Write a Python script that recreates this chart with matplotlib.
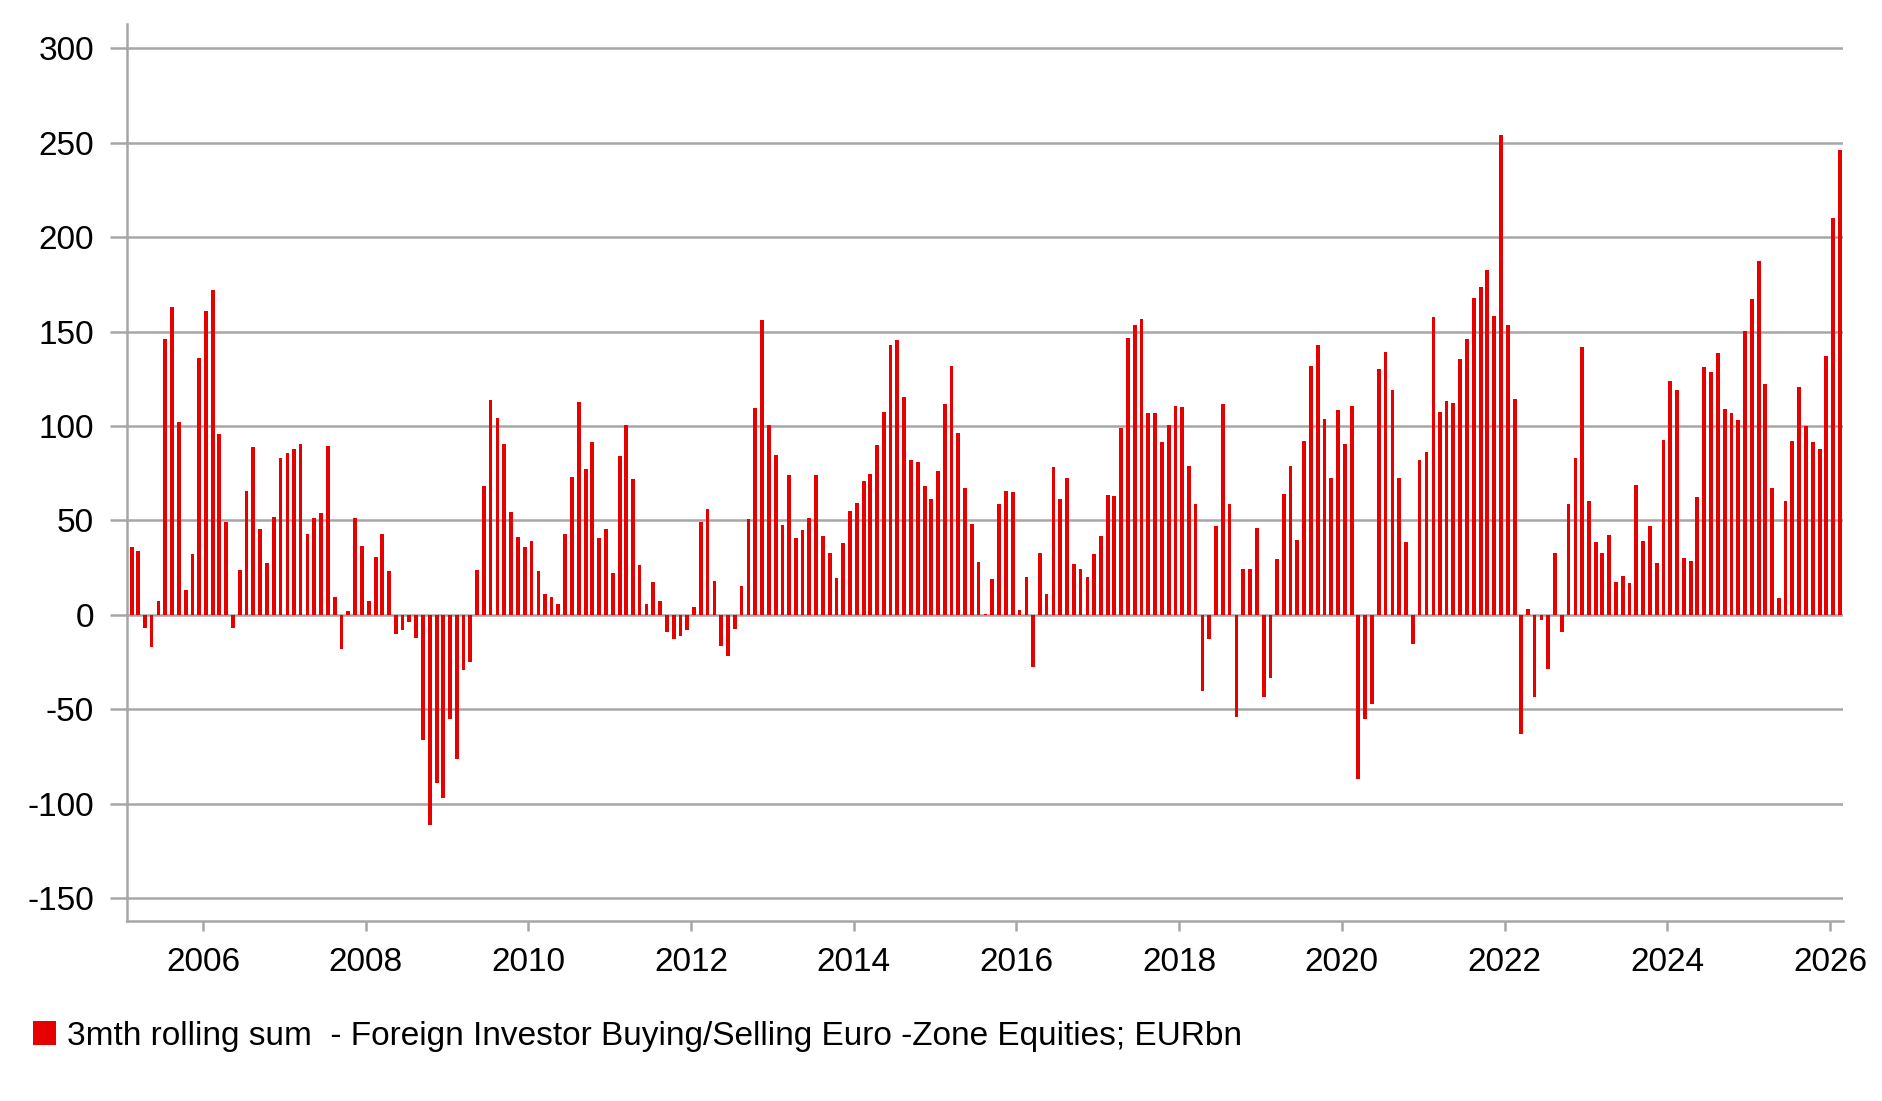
import matplotlib
matplotlib.use("Agg")
import matplotlib.pyplot as plt
import matplotlib.dates as mdates
from matplotlib.patches import Patch
import pandas as pd

# monthly 3m rolling sums, EURbn
start_month = "2005-02-01"
flows = [36, 34, -7, -17, 7.5, 146, 163, 102, 13, 32, 136, 161, 172, 96, 49, -7, 24, 65.5,
         89, 45.5, 27.5, 52, 83, 85.5, 88, 90.5, 43, 51.5, 54, 89.5, 9.5, -18, 2, 51.5, 36.5, 7.5, 30.5, 43, 23,
         -10, -8, -3.5, -12, -66, -111, -89, -97, -55, -76, -29, -25, 24, 68, 114, 104, 90.5, 54.5, 41, 36,
         39, 23, 11, 9.5, 6, 43, 73, 112.5, 77.5, 91.5, 40.5, 45.5, 22, 84, 100.5, 72, 26.5, 6, 17.5, 7.5, -9,
         -12.5, -11, -8, 4, 49, 56, 18, -16.5, -21.5, -7.5, 15.5, 51, 109.5, 156, 100.5, 84.5, 47.5, 74, 40.5, 45, 51.5,
         74, 42, 33, 19.5, 38, 55, 59.5, 71, 74.5, 90, 107.5, 143, 145.5, 115.5, 82, 81, 68, 61.5, 76, 111.5,
         132, 96.5, 67, 48, 28, 0.6, 19, 58.5, 65.5, 65, 2.6, 20, -27.5, 33, 11, 78.5, 61.5, 72.5, 27, 24.5, 20,
         32, 42, 63.5, 63, 99, 146.5, 153.5, 156.5, 107, 107, 91.5, 100.5, 110.5, 110, 79, 58.5, -40.5, -12.5, 47, 111.5, 58.5,
         -54, 24.5, 24.5, 46, -43.5, -33.5, 29.5, 64, 79, 39.5, 92, 132, 143, 103.5, 72.5, 108.5, 90.5, 110.5, -87, -55,
         -47, 130, 139, 119, 72.5, 38.5, -15.5, 82, 86, 157.5, 107.5, 113, 112, 135.5, 146, 168, 173.5, 182.5, 158, 254,
         153.5, 114.5, -63, 3, -43.5,
         -2.5, -28.5, 33, -9, 58.5, 83, 142, 60.5, 38.5, 33, 42.5, 17.5, 20.5, 17, 69, 39, 47, 27.5, 92.5, 124, 119,
         30, 28.5, 62.5, 131, 128.5, 138.5, 109, 107, 103, 150.5, 167.5, 187.5, 122, 67, 9, 60.5, 92, 120.5, 100,
         91.5, 88, 137, 210, 246]
y_ticks = [300, 250, 200, 150, 100, 50, 0, -50, -100, -150]
legend_label = "3mth rolling sum  - Foreign Investor Buying/Selling Euro -Zone Equities; EURbn"

dates = pd.date_range(start_month, periods=len(flows), freq="MS") + pd.Timedelta(days=14)

plt.rcParams['font.family'] = ['Liberation Sans', 'DejaVu Sans']
plt.rcParams['axes.unicode_minus'] = False

grey = "#a6a6a6"
red = "#e60000"

fig = plt.figure(figsize=(18.83, 11.01), dpi=100)
ax = fig.add_axes([0.0676, 0.1635, 0.9114, 0.8145])

ax.bar(dates, flows, width=17, color=red, zorder=3, label=legend_label)

ax.set_ylim(-162, 312.7)
ax.set_yticks(y_ticks)
ax.set_xlim(dates[0] - pd.Timedelta(days=20), dates[-1] + pd.Timedelta(days=15))
ax.xaxis.set_major_locator(mdates.YearLocator(2))
ax.xaxis.set_major_formatter(mdates.DateFormatter('%Y'))

ax.grid(axis='y', color=grey, linewidth=1.8, zorder=0)
for s in ['top', 'right']:
    ax.spines[s].set_visible(False)
for s in ['left', 'bottom']:
    ax.spines[s].set_color(grey)
    ax.spines[s].set_linewidth(1.8)

ax.tick_params(axis='y', length=12, width=1.8, color=grey, pad=12, labelsize=24)
ax.tick_params(axis='x', length=7, width=1.8, color=grey, pad=12, labelsize=24)

handle = Patch(facecolor=red, edgecolor='none')
fig.legend([handle], [legend_label], loc='center left', bbox_to_anchor=(0.0175, 0.059),
           frameon=False, fontsize=24, handlelength=0.7, handleheight=0.7,
           handletextpad=0.33, borderpad=0, borderaxespad=0)

plt.savefig("out.png", dpi=100)
